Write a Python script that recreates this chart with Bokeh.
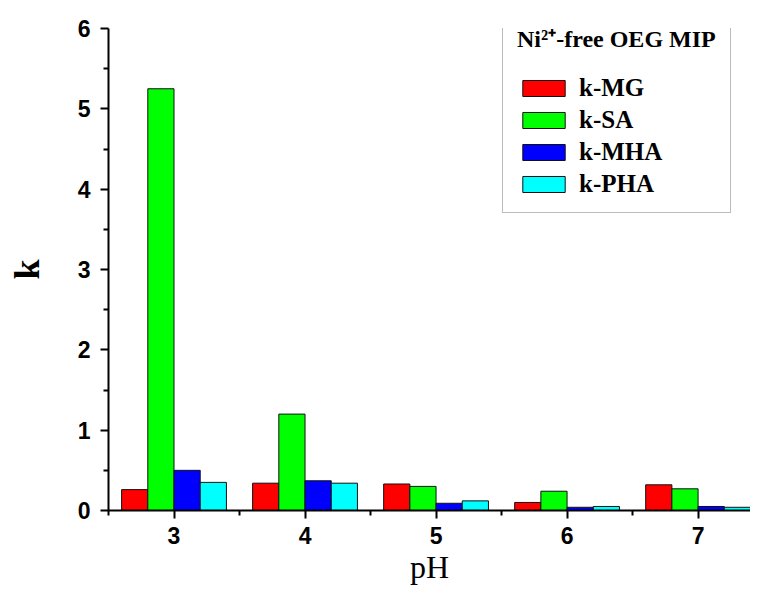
from bokeh.plotting import figure
from bokeh.models import ColumnDataSource, FixedTicker, Range1d, Legend, LegendItem
from bokeh.transform import dodge
from bokeh.embed import file_html
from bokeh.resources import INLINE

ph = [3, 4, 5, 6, 7]
k_mg = [0.26, 0.34, 0.33, 0.10, 0.32]
k_sa = [5.25, 1.20, 0.30, 0.24, 0.27]
k_mha = [0.50, 0.37, 0.09, 0.04, 0.05]
k_pha = [0.35, 0.34, 0.12, 0.05, 0.04]
series_names = ["k-MG", "k-SA", "k-MHA", "k-PHA"]
series_colors = ["#ff0000", "#00ff00", "#0000ff", "#00ffff"]
legend_title = "Ni\u00b2\u207a-free OEG MIP"

src = ColumnDataSource(dict(ph=ph, mg=k_mg, sa=k_sa, mha=k_mha, pha=k_pha))

p = figure(width=750, height=593, output_backend="svg", toolbar_location=None,
           x_range=Range1d(2.5, 7.4), y_range=Range1d(0, 6),
           min_border_left=108, min_border_right=0, min_border_top=28, min_border_bottom=83)
p.outline_line_color = None
p.xgrid.grid_line_color = None
p.ygrid.grid_line_color = None

offsets = [-0.3, -0.1, 0.1, 0.3]
cols = ["mg", "sa", "mha", "pha"]
renderers = []
for c, off, col in zip(cols, offsets, series_colors):
    r = p.vbar(x=dodge("ph", off), top=c, width=0.2, bottom=0, source=src,
               fill_color=col, line_color="#111111", line_width=1)
    renderers.append(r)

xa = p.xaxis[0]
xa.ticker = FixedTicker(ticks=ph, minor_ticks=[2.5, 3.5, 4.5, 5.5, 6.5])
xa.axis_label = "pH"
xa.axis_label_text_font = "Liberation Serif"
xa.axis_label_text_font_style = "normal"
xa.axis_label_text_font_size = "32px"
xa.axis_label_text_color = "black"
xa.axis_label_standoff = 2
xa.major_label_text_font = "Liberation Sans"
xa.major_label_text_font_style = "bold"
xa.major_label_text_font_size = "23px"
xa.major_label_text_color = "black"
xa.major_label_standoff = 8
xa.axis_line_width = 2
xa.major_tick_line_width = 2
xa.minor_tick_line_width = 2
xa.major_tick_in = 0
xa.major_tick_out = 8
xa.minor_tick_in = 0
xa.minor_tick_out = 5

ya = p.yaxis[0]
ya.ticker = FixedTicker(ticks=[0, 1, 2, 3, 4, 5, 6], minor_ticks=[0.5, 1.5, 2.5, 3.5, 4.5, 5.5])
ya.axis_label = "k"
ya.axis_label_text_font = "Liberation Serif"
ya.axis_label_text_font_style = "bold"
ya.axis_label_text_font_size = "36px"
ya.axis_label_text_color = "black"
ya.axis_label_standoff = 28
ya.major_label_text_font = "Liberation Sans"
ya.major_label_text_font_style = "bold"
ya.major_label_text_font_size = "23px"
ya.major_label_text_color = "black"
ya.major_label_standoff = 10
ya.axis_line_width = 2
ya.major_tick_line_width = 2
ya.minor_tick_line_width = 2
ya.major_tick_in = 0
ya.major_tick_out = 8
ya.minor_tick_in = 0
ya.minor_tick_out = 5

legend = Legend(items=[LegendItem(label=n, renderers=[r]) for n, r in zip(series_names, renderers)],
                location=(394, 297), title=legend_title,
                title_text_font="Liberation Serif", title_text_font_style="bold",
                title_text_font_size="24px", title_text_color="black", title_standoff=20,
                label_text_font="Liberation Serif", label_text_font_style="bold",
                label_text_font_size="25px", label_text_color="black",
                glyph_width=53, glyph_height=20, spacing=4, padding=14, margin=0,
                label_standoff=9,
                border_line_color="#777777", border_line_width=1,
                background_fill_color="white", background_fill_alpha=1.0)
p.add_layout(legend)

open("out.html", "w").write(file_html(p, INLINE))
